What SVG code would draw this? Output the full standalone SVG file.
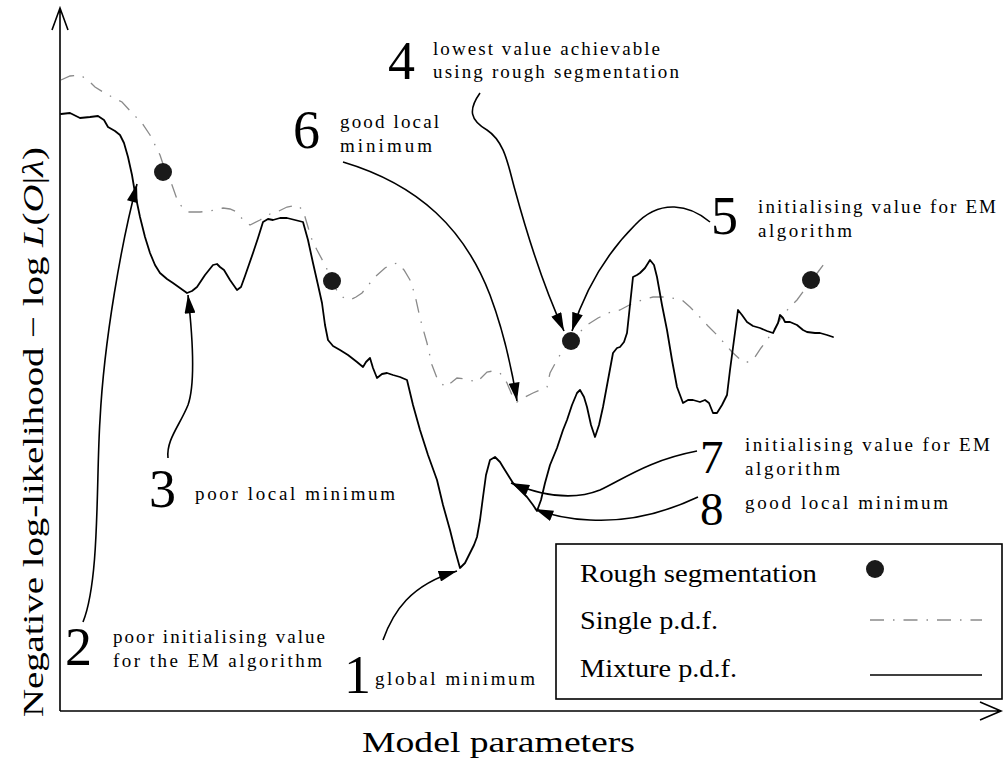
<svg xmlns="http://www.w3.org/2000/svg" width="1005" height="769" viewBox="0 0 1005 769">
<style>
.ax{fill:none;stroke:#000;stroke-width:1.6}
.mix{fill:none;stroke:#000;stroke-width:1.8;stroke-linejoin:round;stroke-linecap:round}
.sgl{fill:none;stroke:#8a8a8a;stroke-width:1.3;stroke-dasharray:14 9 1.5 9}
.con{fill:none;stroke:#000;stroke-width:1.6}
.dot{fill:#1a1a1a}
.big{font-family:"Liberation Serif",serif;font-size:54px;fill:#000}
.big2{font-family:"Liberation Serif",serif;font-size:47px;fill:#000}
.sm{font-family:"Liberation Serif",serif;font-size:19px;fill:#000}
.lg{font-family:"Liberation Serif",serif;font-size:26px;fill:#000}
.axl{font-family:"Liberation Serif",serif;font-size:30px;fill:#000}
</style>
<defs>
<marker id="ah" viewBox="0 0 20 12" refX="20" refY="6" markerWidth="19" markerHeight="11" markerUnits="userSpaceOnUse" orient="auto">
<path d="M0,0 L20,6 L0,12 Z" fill="#000"/>
</marker>
</defs>
<rect width="1005" height="769" fill="#fff"/>
<g id="axes">
<path class="ax" d="M60,711 V8 M52,30 L60,8 L68,30"/>
<path class="ax" d="M60,711 H1001 M980,702 L1001,711 L980,720"/>
<text class="axl" transform="translate(43,717) rotate(-90)" textLength="570" lengthAdjust="spacingAndGlyphs">Negative log-likelihood  − log <tspan font-style="italic">L</tspan>(<tspan font-style="italic">O</tspan>|<tspan font-style="italic">λ</tspan>)</text>
<text class="axl" x="362" y="752" textLength="273" lengthAdjust="spacingAndGlyphs">Model parameters</text>
</g>
<g id="single-pdf">
<polyline class="sgl" points="61,80 70,76 80,75 88,80 95,87 103,92 112,97 122,102 132,113 142,123 150,135 156,147 160,155 165,170 172,185 178,202 183,208 188,212 200,212 210,211 223,208 230,209 237,212 243,220 250,225 260,220 270,214 277,212 287,207 297,205 303,210 308,227 312,240 317,250 325,265 332,280 338,293 344,298 350,300 356,297 362,293 370,283 375,277 385,268 392,264 398,263 404,270 410,280 415,295 420,318 427,343 432,365 437,378 445,387 452,382 457,378 465,379 477,382 487,372 493,371 500,373 507,383 512,395 517,402 525,397 533,393 547,387 550,373 557,360 563,350 571,342 580,332 587,325 598,318 608,313 620,310 633,303 645,299 653,297 667,297 682,300 690,307 698,315 708,326 717,335 725,344 732,352 743,362 750,362 755,357 761,348 767,340 775,328 783,315 790,307 797,300 805,289 811,280 818,272 827,260"/>
</g>
<g id="mixture-pdf">
<polyline class="mix" points="61,114 70,113 80,118 90,117 98,116 104,120 108,127 115,131 120,135 124,143 128,157 132,175 135,193 140,217 145,237 150,253 155,265 160,273 167,279 173,283 180,288 187,293 192,291 197,287 205,275 213,265 217,264 220,267 224,270 230,280 237,290 241,287 245,276 253,253 258,238 263,222 268,219 273,220 280,218 287,218 295,220 303,222 308,240 313,263 318,285 322,303 325,325 328,340 333,346 340,350 348,355 357,362 363,367 366,362 370,358 373,368 377,378 382,374 387,373 393,375 400,377 407,380 413,405 420,430 428,455 437,480 443,505 450,530 455,550 460,568 465,563 470,553 474,545 477,537 480,520 483,497 486,475 490,460 495,457 500,462 503,467 508,475 513,483 520,490 527,497 533,505 537,511 541,500 545,483 550,465 557,448 563,430 567,420 572,405 577,393 580,390 584,397 587,407 591,425 595,437 599,425 603,407 608,380 613,353 617,348 620,347 624,342 627,333 630,305 633,277 637,275 640,273 645,268 650,260 654,265 657,277 662,305 667,330 672,360 677,387 683,403 688,400 693,400 700,402 705,400 709,403 713,413 717,413 722,405 727,395 730,370 734,340 738,310 742,315 747,322 753,326 760,328 767,331 773,333 778,323 780,315 783,318 785,322 790,322 797,325 803,330 807,332 815,333 820,333 827,335 833,337"/>
</g>
<g id="rough-segmentation">
<circle class="dot" cx="163" cy="172" r="9"/>
<circle class="dot" cx="332" cy="281" r="9"/>
<circle class="dot" cx="571" cy="341" r="9"/>
<circle class="dot" cx="811" cy="280" r="9"/>
</g>
<g id="connectors">
<path class="con" marker-end="url(#ah)" d="M383,640 C393,612 410,585 457,571"/>
<path class="con" marker-end="url(#ah)" d="M83,622 C100,580 96,480 100,420 C104,340 122,240 137,184"/>
<path class="con" marker-end="url(#ah)" d="M168,458 C166,440 180,425 188,405 C195,385 193,340 188,295"/>
<path class="con" marker-end="url(#ah)" d="M480,93 C468,110 470,120 487,130 C505,142 508,165 515,190 C530,245 545,290 564,331"/>
<path class="con" marker-end="url(#ah)" d="M710,222 C690,205 660,198 635,225 C605,255 585,290 572,331"/>
<path class="con" marker-end="url(#ah)" d="M343,162 C420,185 465,230 490,295 C505,335 512,370 517,401"/>
<path class="con" marker-end="url(#ah)" d="M697,451 C650,460 625,478 600,490 C575,500 545,497 511,483"/>
<path class="con" marker-end="url(#ah)" d="M698,497 C660,515 625,522 590,520 C565,519 550,515 535,509"/>
</g>
<g id="label-1"><text class="big" x="344" y="693">1</text><text class="sm" x="375" y="685" textLength="160" lengthAdjust="spacing">global minimum</text></g>
<g id="label-2"><text class="big" x="65" y="665">2</text><text class="sm" x="113" y="643" textLength="212" lengthAdjust="spacing">poor initialising value</text><text class="sm" x="113" y="667" textLength="209" lengthAdjust="spacing">for the EM algorithm</text></g>
<g id="label-3"><text class="big" x="149" y="507">3</text><text class="sm" x="195" y="500" textLength="200" lengthAdjust="spacing">poor local minimum</text></g>
<g id="label-4"><text class="big" x="388" y="79">4</text><text class="sm" x="433" y="55" textLength="227" lengthAdjust="spacing">lowest value achievable</text><text class="sm" x="433" y="78" textLength="246" lengthAdjust="spacing">using rough segmentation</text></g>
<g id="label-5"><text class="big" x="711" y="234">5</text><text class="sm" x="758" y="213" textLength="238" lengthAdjust="spacing">initialising value for EM</text><text class="sm" x="758" y="237" textLength="94" lengthAdjust="spacing">algorithm</text></g>
<g id="label-6"><text class="big" x="293" y="148">6</text><text class="sm" x="340" y="128" textLength="99" lengthAdjust="spacing">good local</text><text class="sm" x="340" y="152" textLength="92" lengthAdjust="spacing">minimum</text></g>
<g id="label-7"><text class="big2" x="700" y="473">7</text><text class="sm" x="745" y="451" textLength="245" lengthAdjust="spacing">initialising value for EM</text><text class="sm" x="745" y="475" textLength="95" lengthAdjust="spacing">algorithm</text></g>
<g id="label-8"><text class="big2" x="700" y="525">8</text><text class="sm" x="745" y="509" textLength="203" lengthAdjust="spacing">good local minimum</text></g>
<g id="legend">
<rect x="556" y="544" width="446" height="155" fill="#fff" stroke="#000" stroke-width="1.6"/>
<text class="lg" x="580" y="582" textLength="237" lengthAdjust="spacingAndGlyphs">Rough segmentation</text>
<text class="lg" x="580" y="629" textLength="138" lengthAdjust="spacingAndGlyphs">Single p.d.f.</text>
<text class="lg" x="580" y="677" textLength="157" lengthAdjust="spacingAndGlyphs">Mixture p.d.f.</text>
<circle class="dot" cx="875" cy="569" r="9"/>
<line class="sgl" x1="870" y1="620" x2="982" y2="620"/>
<line x1="870" y1="675" x2="982" y2="675" stroke="#000" stroke-width="1.6"/>
</g>
</svg>
